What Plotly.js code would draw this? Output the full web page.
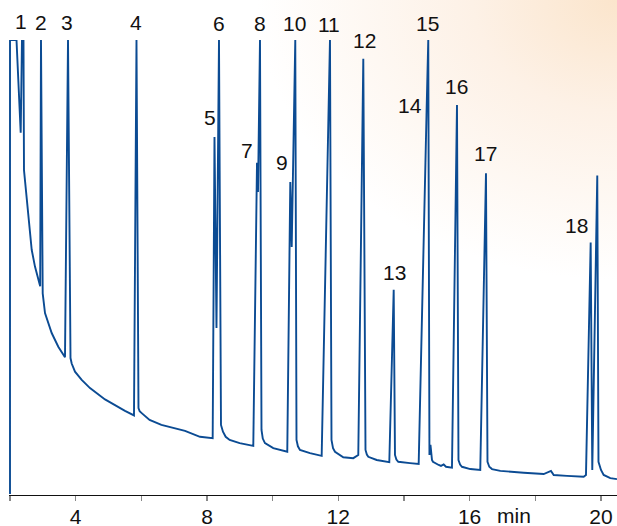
<!DOCTYPE html>
<html>
<head>
<meta charset="utf-8">
<script src="https://cdn.plot.ly/plotly-3.0.1.min.js"></script>
<style>
  html, body { margin: 0; padding: 0; }
  body {
    width: 617px; height: 526px; overflow: hidden;
    background: radial-gradient(ellipse 360px 280px at 100% 0%, #fbe5cc 0%, #fdf1e6 40%, #ffffff 100%);
  }
  #chart { width: 617px; height: 526px; }
</style>
</head>
<body>
<div id="chart"></div>
<script>
// Retention time (min) and detector signal (% of full scale, clipped at 100)
const time = [
  2.000, 2.000, 2.198, 2.326, 2.365, 2.411, 2.426, 2.509, 2.661, 2.761, 2.892, 2.919, 2.944, 2.996,
  3.066, 3.270, 3.471, 3.675, 3.767, 3.843, 3.879, 3.980, 4.184, 4.437, 4.894, 5.168, 5.503, 5.777,
  5.853, 5.914, 5.950, 6.012, 6.252, 6.612, 7.331, 7.787, 8.174, 8.229, 8.290, 8.366, 8.427, 8.487,
  8.570, 8.691, 8.996, 9.411, 9.524, 9.554, 9.615, 9.661, 9.700, 9.767, 10.020, 10.446, 10.538,
  10.581, 10.690, 10.727, 10.770, 10.833, 11.138, 11.494, 11.616, 11.747, 11.793, 11.840, 11.900,
  12.152, 12.457, 12.609, 12.762, 12.829, 12.870, 12.914, 13.170, 13.554, 13.688, 13.727, 13.770,
  13.828, 14.184, 14.449, 14.687, 14.741, 14.777, 14.808, 14.854, 14.884, 15.058, 15.128, 15.210,
  15.281, 15.463, 15.616, 15.661, 15.710, 15.768, 16.021, 16.325, 16.499, 16.545, 16.600, 16.682,
  16.935, 17.648, 18.257, 18.479, 18.562, 18.967, 19.475, 19.545, 19.688, 19.737, 19.889, 19.926,
  19.962, 20.002, 20.084, 20.285, 20.489
];
const signal = [
  0.2, 100, 100, 79.6, 100, 100, 71.4, 64.8, 53.9, 50.2, 46.2, 45.9, 100, 44.3,
  40.0, 35.6, 32.6, 30.3, 100, 30.1, 28.9, 27.1, 25.3, 23.5, 21.0, 19.8, 18.5, 17.5,
  100, 19.1, 18.4, 18.0, 16.5, 15.4, 14.1, 12.8, 12.5, 78.7, 36.7, 100, 15.4, 13.9,
  12.8, 12.1, 11.4, 10.8, 73.0, 66.6, 100, 14.3, 12.4, 11.4, 10.3, 9.5, 68.8,
  54.5, 100, 12.1, 10.7, 9.9, 9.2, 8.6, 51.0, 100, 12.1, 10.3, 9.5,
  8.3, 8.1, 8.8, 95.9, 9.9, 8.9, 8.4, 7.7, 7.2, 45.1, 8.8, 7.8,
  7.3, 7.0, 6.8, 83.5, 100, 8.8, 11.0, 7.7, 7.3, 6.6, 6.4, 6.7,
  6.2, 6.0, 85.7, 7.7, 6.7, 6.2, 5.7, 5.5, 70.7, 7.3, 6.2, 5.7,
  5.3, 4.9, 4.6, 5.3, 4.4, 4.2, 4.0, 4.4, 55.5, 5.5, 70.2, 7.3,
  6.6, 5.5, 4.4, 3.7, 3.5
];

// Peak numbering labels (height given as fraction of full scale)
const peakLabels = ['1','2','3','4','5','6','7','8','9','10','11','12','13','14','15','16','17','18'];
const labelTimes = [2.326, 2.944, 3.727, 5.838, 8.092, 8.366, 9.210, 9.615, 10.276, 10.681,
                    11.717, 12.813, 13.697, 14.184, 14.732, 15.607, 16.499, 19.262];
const labelHeights = [1.040, 1.039, 1.039, 1.039, 0.829, 1.037, 0.758, 1.037, 0.730, 1.037,
                      1.033, 1.000, 0.490, 0.857, 1.037, 0.897, 0.750, 0.592];

// Axis ticks
const tickVals = [2, 4, 6, 8, 10, 12, 14, 16, 18, 20];
const tickText = ['', '4', '', '8', '', '12', '', '16', '', '20'];
const unitLabel = 'min';
const unitTime = 17.34;

const FONT = '"Liberation Sans", Arial, Helvetica, sans-serif';

const annotations = peakLabels.map((s, i) => ({
  x: labelTimes[i], y: labelHeights[i], xref: 'x', yref: 'paper',
  text: s, showarrow: false, xanchor: 'center', yanchor: 'middle',
  font: { family: FONT, size: 21, color: '#111111' }
}));
annotations.push({
  x: unitTime, y: -0.045, xref: 'x', yref: 'paper', text: unitLabel, showarrow: false,
  xanchor: 'center', yanchor: 'middle',
  font: { family: FONT, size: 21, color: '#111111' }
});

const trace = {
  x: time, y: signal, type: 'scatter', mode: 'lines',
  line: { color: '#0b4b93', width: 1.9, shape: 'linear' },
  hoverinfo: 'skip'
};

const layout = {
  width: 617, height: 526,
  margin: { l: 9, r: 0, t: 40, b: 31, pad: 0 },
  paper_bgcolor: 'rgba(0,0,0,0)',
  plot_bgcolor: 'rgba(0,0,0,0)',
  showlegend: false,
  xaxis: {
    range: [1.9695, 20.49],
    showgrid: false, zeroline: false,
    showline: true, linecolor: '#111111', linewidth: 1.3,
    ticks: 'outside', ticklen: 5, tickwidth: 1.2, tickcolor: '#888888',
    tickmode: 'array', tickvals: tickVals, ticktext: tickText,
    ticklabelstandoff: -3,
    tickfont: { family: FONT, size: 21, color: '#111111' }
  },
  yaxis: {
    range: [0, 100],
    visible: false, showgrid: false, zeroline: false
  },
  annotations: annotations
};

Plotly.newPlot('chart', [trace], layout, { staticPlot: true, displayModeBar: false });
</script>
</body>
</html>
